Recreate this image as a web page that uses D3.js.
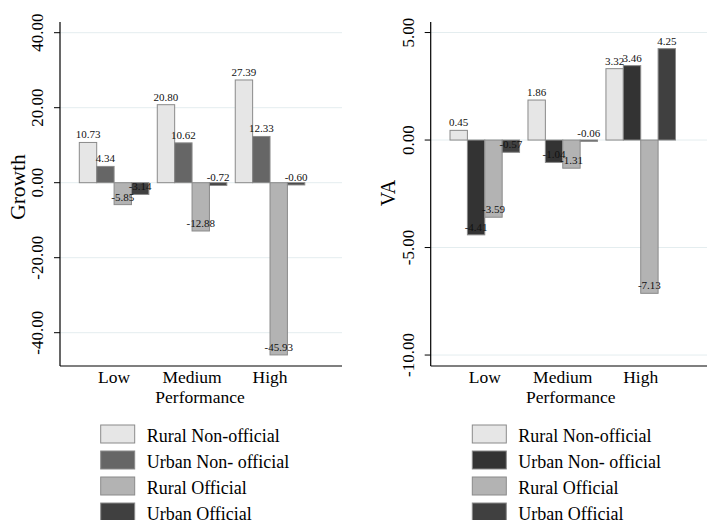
<!DOCTYPE html>
<html>
<head>
<meta charset="utf-8">
<script src="https://cdn.jsdelivr.net/npm/d3@7"></script>
<style>
  body { margin: 0; background: #fff; }
  svg { display: block; font-family: "Liberation Serif", "Times New Roman", serif; }
</style>
</head>
<body>
<svg id="chart" width="707" height="520"></svg>
<script>
// data
const categories = ['Low', 'Medium', 'High'];
const seriesNames = ['Rural Non-official', 'Urban Non- official', 'Rural Official', 'Urban Official'];

const growthRuralNonOfficial = [10.73, 20.80, 27.39];
const growthUrbanNonOfficial = [4.34, 10.62, 12.33];
const growthRuralOfficial = [-5.85, -12.88, -45.93];
const growthUrbanOfficial = [-3.14, -0.72, -0.60];

const vaRuralNonOfficial = [0.45, 1.86, 3.32];
const vaUrbanNonOfficial = [-4.41, -1.04, 3.46];
const vaRuralOfficial = [-3.59, -1.31, -7.13];
const vaUrbanOfficial = [-0.57, -0.06, 4.25];

const growthTicks = [-40, -20, 0, 20, 40];
const vaTicks = [-10, -5, 0, 5];

const growthColors = ['#e6e6e6', '#666666', '#b3b3b3', '#404040'];
const vaColors = ['#e6e6e6', '#333333', '#b3b3b3', '#404040'];

const svg = d3.select('#chart');
// hyphen minus, like the original
const fmt = d3.formatLocale({ decimal: '.', thousands: ',', grouping: [3], currency: ['', ''], minus: '-' }).format('.2f');

function drawPanel(p) {
  const g = svg.append('g');

  const y = d3.scaleLinear().domain(p.domain).range([366, 22]);
  const x0 = d3.scaleBand()
    .domain(categories)
    .range([p.axisX + 15.1, p.axisX + 15.1 + 233.9])
    .paddingInner(0.108)
    .paddingOuter(0.054);
  const x1 = d3.scaleBand()
    .domain(seriesNames)
    .range([0, x0.bandwidth()]);

  // grid
  g.selectAll('line.grid')
    .data(p.ticks)
    .join('line')
    .attr('x1', p.axisX).attr('x2', p.right)
    .attr('y1', d => y(d)).attr('y2', d => y(d))
    .attr('stroke', '#e4edef')
    .attr('stroke-width', 1);

  // bars
  const rows = [];
  categories.forEach((c, i) => {
    p.series.forEach((s, j) => rows.push({ cat: c, name: seriesNames[j], value: s[i], color: p.colors[j] }));
  });

  g.selectAll('rect.bar')
    .data(rows)
    .join('rect')
    .attr('x', d => x0(d.cat) + x1(d.name))
    .attr('width', x1.bandwidth())
    .attr('y', d => y(Math.max(0, d.value)))
    .attr('height', d => Math.abs(y(d.value) - y(0)))
    .attr('fill', d => d.color)
    .attr('stroke', '#8a8a8a')
    .attr('stroke-width', 1);

  g.selectAll('text.val')
    .data(rows)
    .join('text')
    .attr('x', d => x0(d.cat) + x1(d.name) + x1.bandwidth() / 2)
    .attr('y', d => y(d.value) - 4)
    .attr('text-anchor', 'middle')
    .attr('font-size', 11)
    .attr('fill', '#111')
    .text(d => fmt(d.value));

  // axes
  g.append('line')
    .attr('x1', p.axisX).attr('x2', p.axisX)
    .attr('y1', 22).attr('y2', 366)
    .attr('stroke', '#000').attr('stroke-width', 1.2);
  g.append('line')
    .attr('x1', p.axisX).attr('x2', p.right)
    .attr('y1', 366).attr('y2', 366)
    .attr('stroke', '#000').attr('stroke-width', 1.2);

  g.selectAll('line.tick')
    .data(p.ticks)
    .join('line')
    .attr('x1', p.axisX - 6).attr('x2', p.axisX)
    .attr('y1', d => y(d)).attr('y2', d => y(d))
    .attr('stroke', '#000');

  g.selectAll('text.tick')
    .data(p.ticks)
    .join('text')
    .attr('transform', d => `translate(${p.axisX - 17},${y(d)}) rotate(-90)`)
    .attr('text-anchor', 'middle')
    .attr('font-size', 17)
    .text(d => fmt(d));

  g.append('text')
    .attr('transform', `translate(${p.axisX - 35.5},${p.titleY}) rotate(-90)`)
    .attr('text-anchor', 'middle')
    .attr('font-size', p.titleSize)
    .text(p.title);

  g.selectAll('text.cat')
    .data(categories)
    .join('text')
    .attr('x', d => x0(d) + x0.bandwidth() / 2)
    .attr('y', 383)
    .attr('text-anchor', 'middle')
    .attr('font-size', 17.5)
    .text(d => d);

  g.append('text')
    .attr('x', x0(categories[1]) + x0.bandwidth() / 2 + 8)
    .attr('y', 402.5)
    .attr('text-anchor', 'middle')
    .attr('font-size', 17.5)
    .text('Performance');

  // legend
  seriesNames.forEach((name, i) => {
    g.append('rect')
      .attr('x', p.legendX)
      .attr('y', 425 + i * 26)
      .attr('width', 34)
      .attr('height', 18)
      .attr('fill', p.colors[i])
      .attr('stroke', '#8a8a8a');
    g.append('text')
      .attr('x', p.legendX + 46)
      .attr('y', 441.5 + i * 26)
      .attr('font-size', 18)
      .text(name);
  });
}

drawPanel({
  axisX: 60, right: 342,
  domain: [-48.88, 42.85],
  ticks: growthTicks,
  series: [growthRuralNonOfficial, growthUrbanNonOfficial, growthRuralOfficial, growthUrbanOfficial],
  colors: growthColors,
  title: 'Growth', titleY: 187, titleSize: 21.5,
  legendX: 100.7
});

drawPanel({
  axisX: 430.7, right: 707,
  domain: [-10.51, 5.49],
  ticks: vaTicks,
  series: [vaRuralNonOfficial, vaUrbanNonOfficial, vaRuralOfficial, vaUrbanOfficial],
  colors: vaColors,
  title: 'VA', titleY: 193, titleSize: 20,
  legendX: 472.3
});
</script>
</body>
</html>
